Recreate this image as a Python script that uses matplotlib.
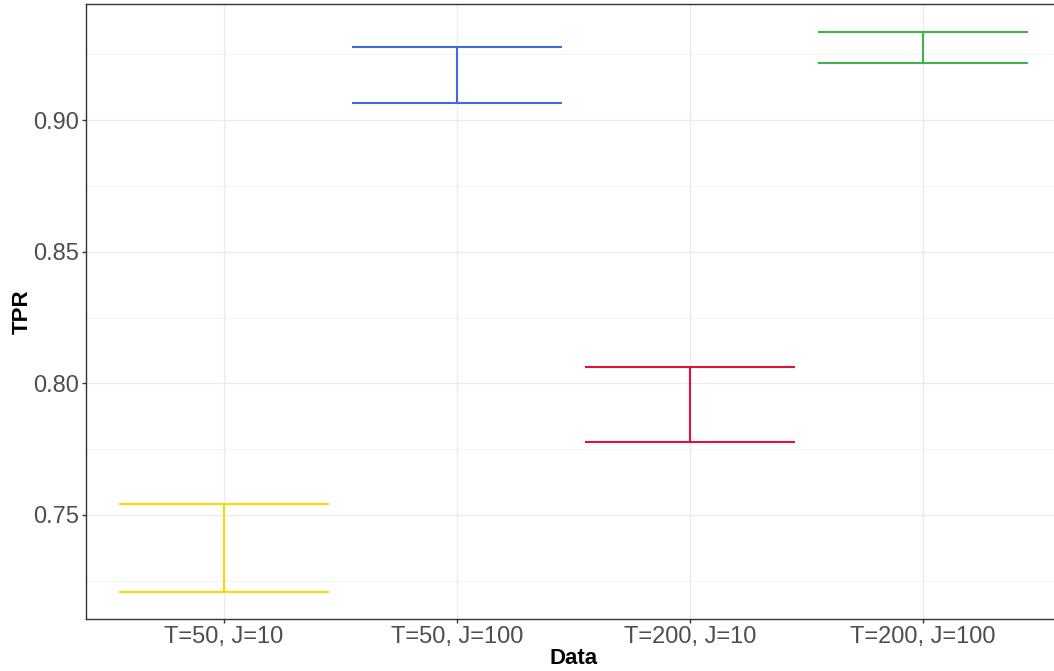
import matplotlib
matplotlib.use("Agg")
from matplotlib import pyplot as plt
from matplotlib.ticker import MultipleLocator

# data
groups = ["T=50, J=10", "T=50, J=100", "T=200, J=10", "T=200, J=100"]
tpr_low = [0.7209, 0.9065, 0.7778, 0.9215]
tpr_high = [0.7542, 0.9277, 0.8063, 0.9335]
colors = ["#FFD700", "#4169E1", "#DC143C", "#3CB44B"]

plt.rcParams['font.family'] = ['Liberation Sans', 'DejaVu Sans']

fig = plt.figure(figsize=(10.54, 6.71), dpi=100)
ax = fig.add_axes([0.0816, 0.0775, 0.925, 0.917])

x = list(range(1, len(groups) + 1))
half = 0.45
for xi, lo, hi, c in zip(x, tpr_low, tpr_high, colors):
    ax.vlines(xi, lo, hi, color=c, linewidth=1.5, zorder=3)
    ax.hlines([lo, hi], xi - half, xi + half, color=c, linewidth=1.5, zorder=3)

ax.set_xlim(0.408, 4.592)
ax.set_ylim(0.7105, 0.9442)
ax.set_xticks(x)
ax.set_xticklabels(groups)
ax.yaxis.set_minor_locator(MultipleLocator(0.025))
ax.set_yticks([0.75, 0.80, 0.85, 0.90])
ax.set_yticklabels(["0.75", "0.80", "0.85", "0.90"])

ax.grid(True, which='major', color='#EBEBEB', linewidth=1.0, zorder=0)
ax.grid(True, which='minor', axis='y', color='#F2F2F2', linewidth=0.6, zorder=0)
ax.set_axisbelow(True)

for s in ax.spines.values():
    s.set_color('#333333')
    s.set_linewidth(1.0)

ax.tick_params(which='major', length=3, width=1.0, color='#333333',
               labelsize=17, labelcolor='#4D4D4D', pad=2)
ax.tick_params(which='minor', length=0)

ax.set_xlabel("Data", fontsize=16, fontweight='bold', labelpad=0)
ax.set_ylabel("TPR", fontsize=16, fontweight='bold', labelpad=0)

plt.savefig("out.png", dpi=100)
plt.close()
